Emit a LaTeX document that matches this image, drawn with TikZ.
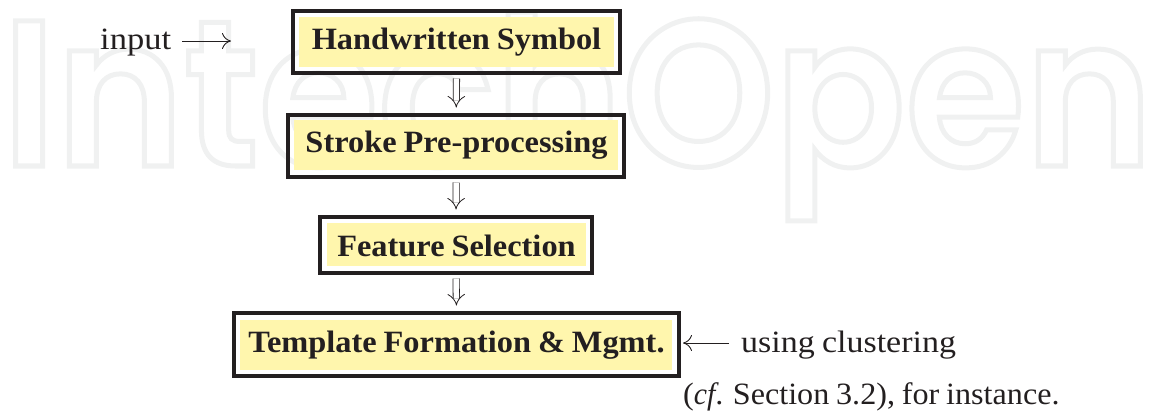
\documentclass[tikz,border=0pt]{standalone}
\usepackage{fontspec}
\usepackage{graphicx}
\setmainfont[WordSpace=0.85,BoldFeatures={FakeStretch=1.045,WordSpace=0.85},ItalicFeatures={FakeStretch=1.0},FakeStretch=1.08]{Liberation Serif}
\newfontfamily\markfont[FakeStretch=0.93]{Poppins SemiBold}
\usetikzlibrary{arrows.meta}
\definecolor{ink}{HTML}{231F20}
\definecolor{paleyellow}{HTML}{FFF6AD}
\definecolor{markgray}{HTML}{F0F1F1}
\newcommand{\outlinetext}[1]{\special{pdf:code 1 Tr 5 w}#1\special{pdf:code 0 Tr 1 w}}
\tikzset{
  x=1pt,y=-1pt,
  framebox/.style={draw=ink,line width=4pt,inner sep=0pt,fill=none},
  yellowbox/.style={fill=paleyellow,draw=none,inner sep=0pt,outer sep=0pt},
  boxlabel/.style={anchor=base,inner sep=0pt,text=ink,font=\fontsize{31}{36}\selectfont\bfseries},
  plainlabel/.style={anchor=base west,inner sep=0pt,text=ink,font=\fontsize{31}{36}\selectfont},
  implyarrow/.style={draw=ink,line width=.8pt,double,double distance=5.5pt,-{Implies},shorten <=3.5pt,shorten >=5.5pt},
  singlearrow/.style={draw=ink,line width=.9pt,-{Computer Modern Rightarrow[length=9pt,width=16pt]}},
  watermark/.style={anchor=base west,inner sep=0pt,text=markgray,font=\fontsize{208}{210}\selectfont\markfont}
}
\begin{document}
\begin{tikzpicture}
\useasboundingbox (0,0) rectangle (1151,410);
\node[watermark] (mark) at (2,166) {\outlinetext{IntechOpen}};
% yellow fills
\node[yellowbox,minimum width=315.4pt,minimum height=50pt] (hwfill) at (456.3,42) {};
\node[yellowbox,minimum width=324pt,minimum height=50pt] (spfill) at (456,145) {};
\node[yellowbox,minimum width=259pt,minimum height=43pt] (fsfill) at (456.5,244.5) {};
\node[yellowbox,minimum width=432pt,minimum height=50pt] (tffill) at (456,345) {};
% frames
\node[framebox,minimum width=327pt,minimum height=62pt] (hw) at (456.5,42) {};
\node[framebox,minimum width=336pt,minimum height=62pt] (sp) at (456.2,146) {};
\node[framebox,minimum width=272pt,minimum height=56pt] (fs) at (456,245) {};
\node[framebox,minimum width=445pt,minimum height=63pt] (tf) at (456.5,344.5) {};
% box texts
\node[boxlabel] (hwtext) at (456.5,49) {Handwritten Symbol};
\node[boxlabel] (sptext) at (456.5,152) {Stroke Pre-processing};
\node[boxlabel] (fstext) at (456.5,256) {Feature Selection};
\node[boxlabel] (tftext) at (456.5,352) {Template Formation \& Mgmt.};
% side texts
\node[plainlabel] (input) at (100,49) {\scalebox{1.03}[1]{input}};
\coordinate (inputend) at (231,41);
\node[plainlabel] (using) at (741,352) {\scalebox{1.015}[1]{using clustering}};
\node[plainlabel] (cf) at (683,404) {\scalebox{0.96}[1]{(\textit{cf}. Section 3.2), for instance.}};
% connectors
\draw[implyarrow] (hw.south) -- (sp.north);
\draw[implyarrow] (sp.south) -- (fs.north);
\draw[implyarrow] (fs.south) -- (tf.north);
\draw[singlearrow] (input.east |- inputend) ++(11,0) -- (inputend);
\coordinate (usingstart) at (729,343);
\draw[singlearrow,shorten >=2pt] (usingstart) -- (tf.east |- usingstart);
\end{tikzpicture}
\end{document}
